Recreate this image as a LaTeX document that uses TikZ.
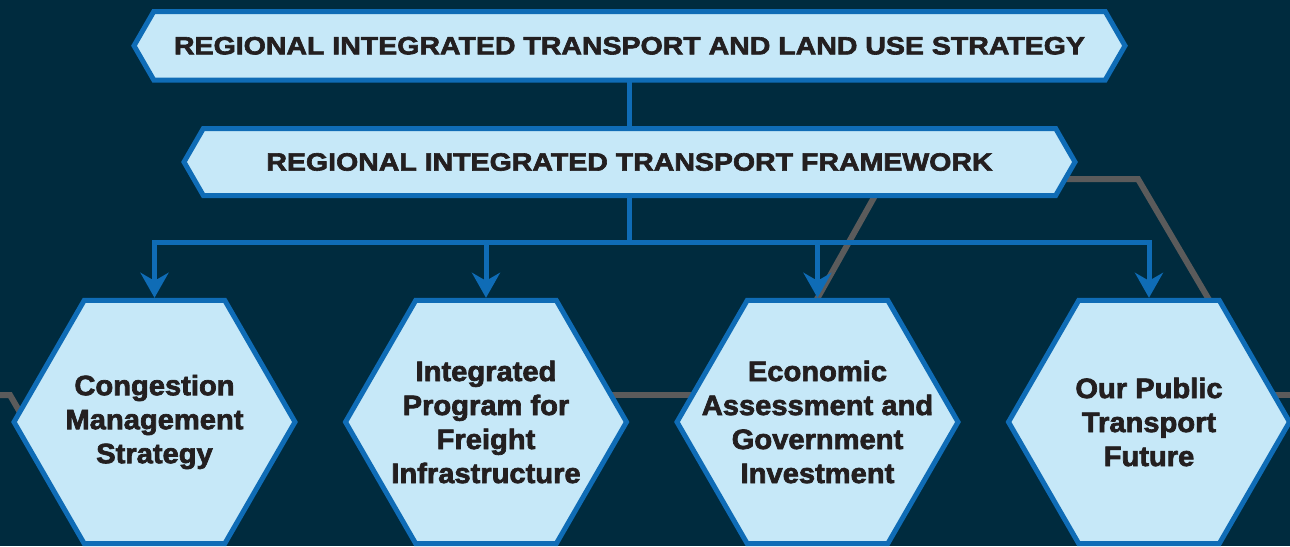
\documentclass[tikz,border=0pt]{standalone}
\usepackage{fontspec}
\setmainfont{Liberation Sans}
\newfontfamily\bannerfont{Liberation Sans Bold}[FakeStretch=1.14,FakeBold=2.5]
\newfontfamily\hexfont{Liberation Sans Bold}[FakeStretch=1.04,FakeBold=2.5]
\usetikzlibrary{shapes.geometric,shapes.symbols,arrows.meta,backgrounds}
\definecolor{navy}{HTML}{002B3E}
\definecolor{hexfill}{HTML}{C6E8F8}
\definecolor{hexblue}{HTML}{0F6CB6}
\definecolor{linegray}{HTML}{5B5B5B}
\definecolor{ink}{HTML}{231F20}
\tikzset{
  banner/.style={signal, signal to=west and east, signal pointer angle=120,
    draw=hexblue, fill=hexfill, line width=5pt, inner sep=0pt, outer sep=0pt,
    text=ink, font=\bannerfont\fontsize{25}{30}\selectfont},
  hexa/.style={regular polygon, regular polygon sides=6, minimum size=281pt,
    inner sep=0pt, outer sep=2.5pt, draw=hexblue, fill=hexfill, line width=5pt},
  hextext/.style={text=ink, align=center, inner sep=0pt,
    font=\hexfont\fontsize{28}{34}\selectfont},
  conn/.style={draw=hexblue, line width=5pt},
  arr/.style={conn, -{Stealth[length=25pt,width=28pt,inset=8pt]}},
  grayline/.style={draw=linegray, line width=6pt}
}
\begin{document}
\begin{tikzpicture}[x=1pt,y=-1pt]
\useasboundingbox (0,0) rectangle (1290,546);
% strategy and framework
\node[banner, minimum width=991pt, minimum height=68.5pt] (rits) at (629.5,45.75)
  {\raisebox{-2pt}{REGIONAL INTEGRATED TRANSPORT AND LAND USE STRATEGY}};
\node[banner, minimum width=891pt, minimum height=67pt] (ritf) at (629.5,162)
  {REGIONAL INTEGRATED TRANSPORT FRAMEWORK};
% the four plans
\node[hexa] (cms) at (154.5,422) {};
\node[hexa] (ipfi) at (486,422) {};
\node[hexa] (eagi) at (817.5,422) {};
\node[hexa] (optf) at (1149,422) {};
\node[hextext] (cms-t) at (cms) {Congestion\\Management\\Strategy};
\node[hextext] (ipfi-t) at (ipfi) {Integrated\\Program for\\Freight\\Infrastructure};
\node[hextext] (eagi-t) at (eagi) {Economic\\Assessment and\\Government\\Investment};
\node[hextext] (optf-t) at (optf) {Our Public\\Transport\\Future};
% links
\draw[conn] (rits.south) -- (ritf.north);
\draw[conn] (ritf.south) -- ++(0,47) coordinate (bus);
\draw[arr] (bus) -| (cms.north);
\draw[arr] (bus) -| (optf.north);
\draw[arr] (ipfi.north |- bus) -- (ipfi.north);
\draw[arr] (eagi.north |- bus) -- (eagi.north);
% backdrop
\begin{scope}[on background layer]
\fill[navy] (0,0) rectangle (1290,546);
\draw[grayline] (0,395) -- (10,395) -- (40,447);
\draw[grayline] (ipfi.center |- 0,395) -- (eagi.center |- 0,395);
\draw[grayline] (optf.center |- 0,395) -- (1290,395);
\draw[grayline] (748,422) -- (895,160);
\draw[grayline] (1040,179) -- (1138,179) -- (1225,327);
\end{scope}
\end{tikzpicture}
\end{document}
